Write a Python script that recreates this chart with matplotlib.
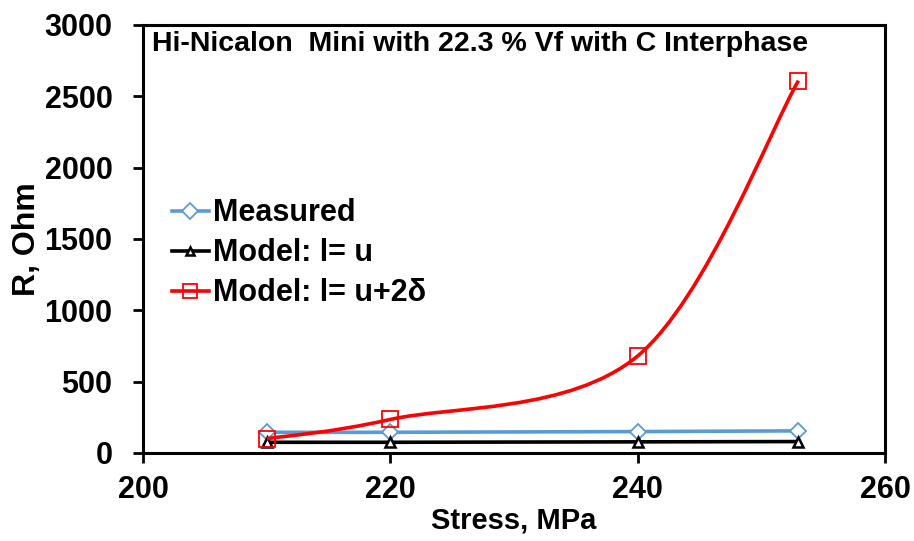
import numpy as np
import matplotlib.pyplot as plt
from matplotlib.path import Path
from matplotlib.patches import PathPatch
from matplotlib.lines import Line2D

plt.rcParams['font.family'] = ['Liberation Sans', 'DejaVu Sans']

stress = [210, 220, 240, 253]
measured = [145, 145, 150, 155]
model_u = [75, 75, 78, 80]
model_u2d = [100, 235, 680, 2610]

blue = "#5B9BD5"
red = "#FF0000"

fig = plt.figure(figsize=(9.14, 5.41), dpi=100)
ax = fig.add_axes([0.1565, 0.1627, 0.8118, 0.7911])
ax.set_xlim(200, 260)
ax.set_ylim(0, 3000)


def smooth_path(xs, ys):
    # Excel-style smoothed line: cubic bezier, control points from neighbours
    # computed in display space, then mapped back to data
    pts = ax.transData.transform(np.column_stack([xs, ys]))
    n = len(pts)
    verts = [pts[0]]
    codes = [Path.MOVETO]
    for i in range(n - 1):
        p0 = pts[i - 1] if i > 0 else pts[i]
        p1 = pts[i]
        p2 = pts[i + 1]
        p3 = pts[i + 2] if i + 2 < n else pts[i + 1]
        c1 = p1 + (p2 - p0) / 6.0
        c2 = p2 - (p3 - p1) / 6.0
        verts += [c1, c2, p2]
        codes += [Path.CURVE4] * 3
    inv = ax.transData.inverted()
    return Path(inv.transform(np.array(verts)), codes)


ax.plot(stress, measured, color=blue, lw=2.6, marker="D", ms=8,
        mfc="white", mec=blue, mew=1.3, zorder=3)
ax.plot(stress, model_u, color="black", lw=2.6, marker="^", ms=7,
        mfc="white", mec="black", mew=1.8, zorder=3)
ax.add_patch(PathPatch(smooth_path(stress, model_u2d), fill=False,
                       edgecolor=red, lw=2.6, zorder=4))
ax.plot(stress, model_u2d, ls="none", marker="s", ms=11,
        mfc="none", mec=red, mew=1.3, zorder=5)

handles = [
    Line2D([], [], color=blue, lw=2.6, marker="D", ms=8, mfc="white", mec=blue, mew=1.3),
    Line2D([], [], color="black", lw=2.6, marker="^", ms=6, mfc="white", mec="black", mew=1.8),
    Line2D([], [], color=red, lw=2.6, marker="s", ms=10, mfc="none", mec=red, mew=1.3),
]
labels = ["Measured", "Model: l= u", "Model: l= u+2δ"]
ax.legend(handles, labels, loc="upper left", bbox_to_anchor=(0.039, 0.595),
          frameon=False, handlelength=1.21, handletextpad=0.13,
          labelspacing=0.33, borderaxespad=0.0, borderpad=0.0,
          prop={"weight": "bold", "size": 22})

ax.text(0.012, 0.985, "Hi-Nicalon  Mini with 22.3 % Vf with C Interphase",
        transform=ax.transAxes, ha="left", va="top", fontsize=20.5,
        fontweight="bold")

ax.set_xticks([200, 220, 240, 260])
ax.set_yticks(range(0, 3001, 500))
ax.tick_params(direction="out", length=7, width=2, labelsize=22)
ax.tick_params(axis="x", pad=9)
ax.tick_params(axis="y", pad=15)
for lab in ax.get_xticklabels() + ax.get_yticklabels():
    lab.set_fontweight("bold")

for s in ax.spines.values():
    s.set_linewidth(2.2)

ax.set_xlabel("Stress, MPa", fontsize=21, fontweight="bold", labelpad=1)
ax.set_ylabel("R, Ohm", fontsize=23, fontweight="bold", labelpad=2)

fig.savefig("out.png", dpi=100)
